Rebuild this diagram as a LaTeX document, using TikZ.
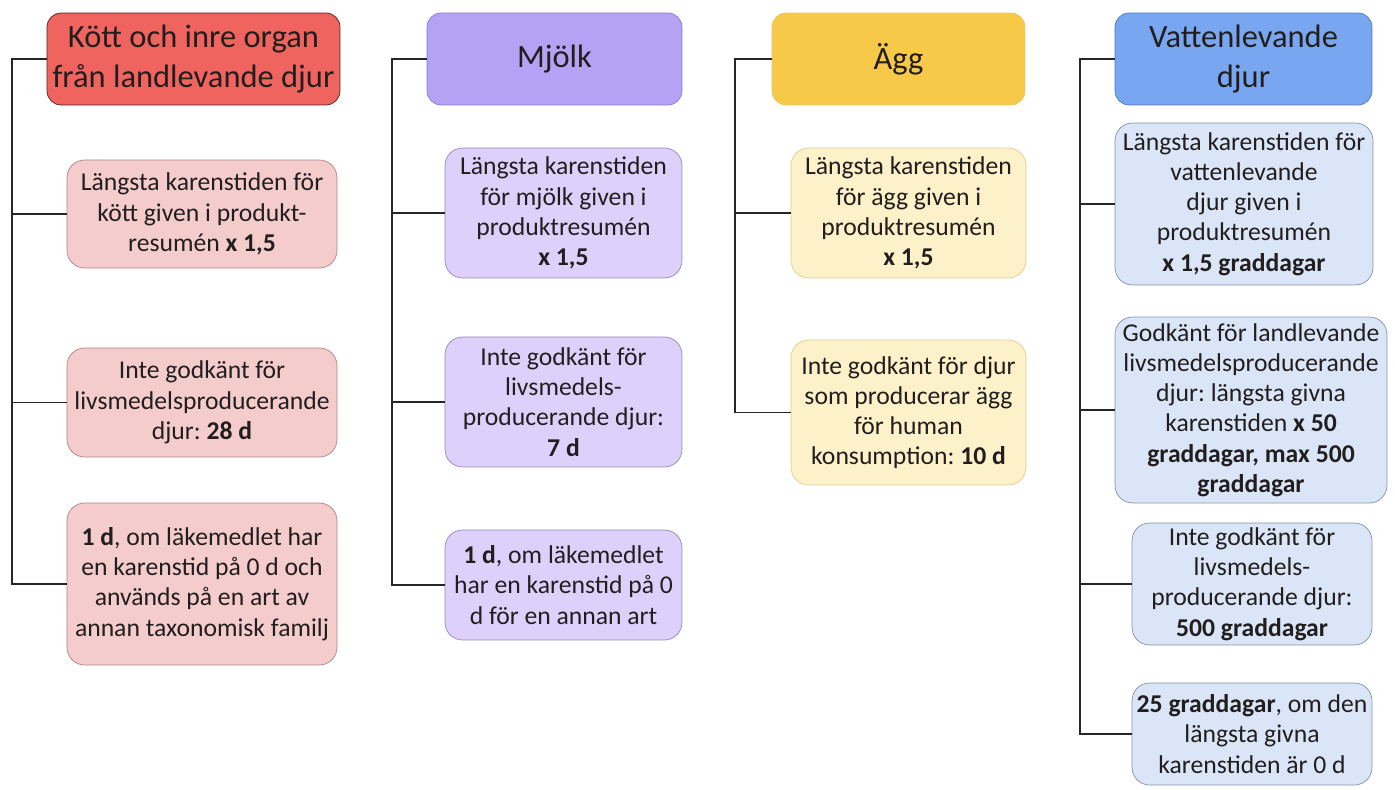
\documentclass[tikz,border=0pt]{standalone}
\usepackage{fontspec}
\setmainfont{Carlito}
\usepackage{tikz}
\usetikzlibrary{calc, positioning}
\frenchspacing
\definecolor{txt}{RGB}{35,30,30}
\definecolor{rodH}{RGB}{240,100,95}
\definecolor{rodHb}{RGB}{80,30,30}
\definecolor{rodL}{RGB}{244,204,204}
\definecolor{rodLb}{RGB}{180,130,130}
\definecolor{lilaH}{RGB}{182,162,245}
\definecolor{lilaHb}{RGB}{140,120,200}
\definecolor{lilaL}{RGB}{221,209,252}
\definecolor{lilaLb}{RGB}{150,135,185}
\definecolor{gulH}{RGB}{246,202,72}
\definecolor{gulHb}{RGB}{232,198,100}
\definecolor{gulL}{RGB}{253,241,202}
\definecolor{gulLb}{RGB}{225,205,140}
\definecolor{blaH}{RGB}{120,166,240}
\definecolor{blaHb}{RGB}{80,120,190}
\definecolor{blaL}{RGB}{218,230,248}
\definecolor{blaLb}{RGB}{130,145,170}
\tikzstyle{hdr}=[draw, rounded corners=8pt, align=center, text=txt, inner sep=2pt, minimum height=1.84cm, font=\fontsize{18.5}{23}\selectfont]
\tikzstyle{leaf}=[draw, rounded corners=10pt, align=center, text=txt, inner sep=2pt, font=\fontsize{14.6}{17.2}\selectfont]
\tikzstyle{rod}=[leaf, fill=rodL, draw=rodLb, minimum width=5.4cm]
\tikzstyle{lila}=[leaf, fill=lilaL, draw=lilaLb, minimum width=4.74cm]
\tikzstyle{gul}=[leaf, fill=gulL, draw=gulLb, minimum width=4.7cm]
\tikzstyle{bla}=[leaf, fill=blaL, draw=blaLb]
\tikzstyle{wire}=[line width=1.1pt, black!85]

\begin{document}
\begin{tikzpicture}[x=0.02cm, y=-0.02cm]
      \useasboundingbox (0,0) rectangle (1395,790);
      \node [hdr, fill=rodH, draw=rodHb, minimum width=5.86cm] (hk) at (193.5,59) {Kött och inre organ\\från landlevande djur};
      \node [rod, minimum height=2.16cm] (k1) at (202,214) {Längsta karenstiden för\\kött given i produkt-\\resumén \textbf{x 1,5}};
      \node [rod, minimum height=2.18cm] (k2) at (202,402.5) {Inte godkänt för\\livsmedelsproducerande\\djur: \textbf{28 d}};
      \node [rod, minimum height=3.24cm] (k3) at (202,584) {\textbf{1 d}, om läkemedlet har\\en karenstid på 0 d och\\används på en art av\\annan taxonomisk familj};
      \node [hdr, fill=lilaH, draw=lilaHb, minimum width=5.1cm] (hm) at (554.5,59) {Mjölk};
      \node [lila, minimum height=2.6cm] (m1) at (563.5,213) {Längsta karenstiden\\för mjölk given i\\produktresumén\\\textbf{x 1,5}};
      \node [lila, minimum height=2.6cm] (m2) at (563.5,402) {Inte godkänt för\\livsmedels-\\producerande djur:\\\textbf{7 d}};
      \node [lila, minimum height=2.2cm] (m3) at (563.5,585) {\textbf{1 d}, om läkemedlet\\har en karenstid på 0\\d för en annan art};
      \node [hdr, fill=gulH, draw=gulHb, minimum width=5.06cm] (ha) at (898.5,59) {Ägg};
      \node [gul, minimum height=2.6cm] (a1) at (908.5,213) {Längsta karenstiden\\för ägg given i\\produktresumén\\\textbf{x 1,5}};
      \node [gul, minimum height=2.9cm] (a2) at (908.5,412.5) {Inte godkänt för djur\\som producerar ägg\\för human\\konsumption: \textbf{10 d}};
      \node [hdr, fill=blaH, draw=blaHb, minimum width=5.14cm] (hv) at (1243.5,59) {Vattenlevande\\djur};
      \node [bla, minimum width=5.16cm, minimum height=3.24cm] (v1) at (1244,204) {Längsta karenstiden för\\vattenlevande\\djur given i\\produktresumén\\\textbf{x 1,5 graddagar}};
      \node [bla, minimum width=5.44cm, minimum height=3.72cm] (v2) at (1251,410) {Godkänt för landlevande\\livsmedelsproducerande\\djur: längsta givna\\karenstiden \textbf{x 50}\\\textbf{graddagar, max 500}\\\textbf{graddagar}};
      \node [bla, minimum width=4.8cm, minimum height=2.44cm] (v3) at (1252,584) {Inte godkänt för\\livsmedels-\\producerande djur:\\\textbf{500 graddagar}};
      \node [bla, minimum width=4.8cm, minimum height=2.04cm] (v4) at (1252,734) {\textbf{25 graddagar}, om den\\längsta givna\\karenstiden är 0 d};
      \coordinate (tk) at (12,59);
      \coordinate (tm) at (392,59);
      \coordinate (ta) at (735,59);
      \coordinate (tv) at (1080,59);
      \draw[wire] (hk.west) -- (tk) |- (k3.west);
      \draw[wire] (tk |- k1.west) -- (k1.west);
      \draw[wire] (tk |- k2.west) -- (k2.west);
      \draw[wire] (hm.west) -- (tm) |- (m3.west);
      \draw[wire] (tm |- m1.west) -- (m1.west);
      \draw[wire] (tm |- m2.west) -- (m2.west);
      \draw[wire] (ha.west) -- (ta) |- (a2.west);
      \draw[wire] (ta |- a1.west) -- (a1.west);
      \draw[wire] (hv.west) -- (tv) |- (v4.west);
      \draw[wire] (tv |- v1.west) -- (v1.west);
      \draw[wire] (tv |- v2.west) -- (v2.west);
      \draw[wire] (tv |- v3.west) -- (v3.west);
  \end{tikzpicture}
\end{document}
